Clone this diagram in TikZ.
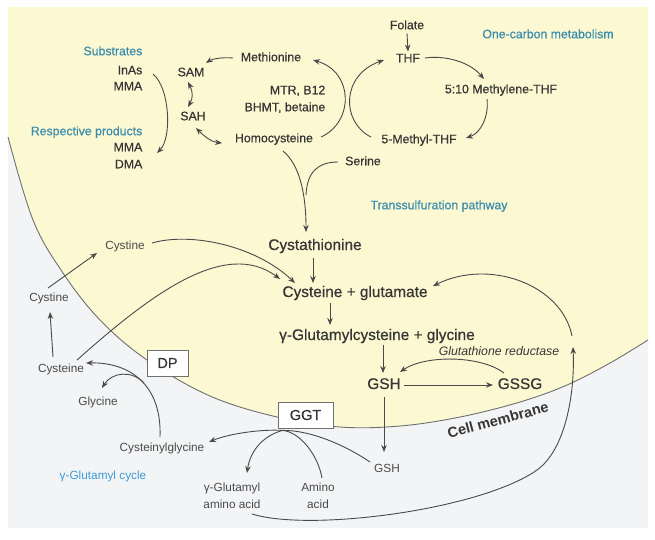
\documentclass[tikz,border=0pt]{standalone}
\usepackage{fontspec}
\setmainfont{Liberation Sans}
\newfontfamily\labfont{Liberation Sans}[FakeBold=0.6]
\usetikzlibrary{arrows.meta,calc}
\definecolor{txt}{HTML}{363636}
\definecolor{txtl}{HTML}{4A4A4A}
\definecolor{blu}{HTML}{3B8DAE}
\definecolor{blu2}{HTML}{3A9BD5}
\definecolor{yel}{HTML}{FCF8D2}
\definecolor{pan}{HTML}{F3F4F6}
\definecolor{lnc}{HTML}{4A4A4A}
\definecolor{boxc}{HTML}{707070}
\begin{document}
\begin{tikzpicture}[x=1pt,y=-1pt,
  lab/.style={font=\labfont\fontsize{12.3}{14}\selectfont, text=txt, inner sep=1.5pt, text height=9pt, text depth=2.5pt},
  big/.style={font=\labfont\fontsize{15.4}{18}\selectfont, text=txt, inner sep=1.5pt, text height=11pt, text depth=3pt},
  sm/.style={font=\fontsize{11.8}{14}\selectfont, text=txtl, inner sep=1.5pt, text height=8.6pt, text depth=2.4pt},
  smtwo/.style={font=\fontsize{11.8}{17}\selectfont, text=txtl, inner sep=1.5pt, align=center},
  bl/.style={lab, text=blu},
  boxn/.style={draw=boxc, fill=white, line width=0.8pt, minimum height=26pt, inner sep=0pt, font=\labfont\fontsize{14.5}{16}\selectfont, text=txt},
  arr/.style={draw=lnc, line width=0.9pt, -{Stealth[length=7pt,width=5.5pt]}},
  darr/.style={draw=lnc, line width=0.9pt, {Stealth[length=7pt,width=5.5pt]}-{Stealth[length=7pt,width=5.5pt]}},
  lin/.style={draw=lnc, line width=0.9pt},
  memb/.style={draw=boxc, line width=0.9pt}]
\useasboundingbox (0,0) rectangle (655,539);
\fill[white] (0,0) rectangle (655,539);
\fill[pan] (8,7) rectangle (648,528);
\fill[yel] (8,7) -- plot[smooth, tension=0.6] coordinates {(8,137) (33,220) (63,273) (100,320) (147,360) (210,396) (277,417) (340,427) (400,426) (460,417) (520,402) (567,385) (610,363) (648,340)} -- (648,7) -- cycle;
\draw[memb] plot[smooth, tension=0.6] coordinates {(8,137) (33,220) (63,273) (100,320) (147,360) (210,396) (277,417) (340,427) (400,426) (460,417) (520,402) (567,385) (610,363) (648,340)};

% nodes
\node[bl, anchor=east] (sub) at (144,52) {Substrates};
\node[lab, anchor=east] (inas) at (144,71) {InAs};
\node[lab, anchor=east] (mma1) at (144,87) {MMA};
\node[bl, anchor=east] (resp) at (144,132) {Respective products};
\node[lab, anchor=east] (mma2) at (144,148) {MMA};
\node[lab, anchor=east] (dma) at (144,165) {DMA};
\node[lab] (sam) at (191,73) {SAM};
\node[lab] (sah) at (193,117) {SAH};
\node[lab] (meth) at (271,58) {Methionine};
\node[lab, anchor=east] (mtr) at (327,91) {MTR, B12};
\node[lab, anchor=east] (bhmt) at (327,108) {BHMT, betaine};
\node[lab] (homo) at (274,139) {Homocysteine};
\node[lab] (folate) at (407,26) {Folate};
\node[lab] (thf) at (408,59) {THF};
\node[lab] (mthf) at (501,90) {5:10 Methylene-THF};
\node[lab] (methyl) at (419,140) {5-Methyl-THF};
\node[bl] (onec) at (548,35) {One-carbon metabolism};
\node[lab] (serine) at (363,162) {Serine};
\node[bl] (trans) at (439,206) {Transsulfuration pathway};
\node[big] (cysta) at (315,246) {Cystathionine};
\node[big] (cysglu) at (355,293) {Cysteine + glutamate};
\node[big] (gglu) at (377,336) {γ-Glutamylcysteine + glycine};
\node[big] (gsh) at (384,385) {GSH};
\node[big] (gssg) at (520,385) {GSSG};
\node[lab, font=\fontsize{12.3}{14}\selectfont\itshape] (gr) at (499,352) {Glutathione reductase};
\node[sm] (gsho) at (387,469) {GSH};
\node[text=txt, font=\fontsize{14.5}{16}\selectfont\bfseries, rotate=15, inner sep=0pt] (cell) at (498,420) {Cell membrane};
\node[sm] (cysi) at (125,246) {Cystine};
\node[sm] (cyso) at (49,298) {Cystine};
\node[sm] (cyst) at (61,369) {Cysteine};
\node[sm] (gly) at (98,402) {Glycine};
\node[sm] (cysgly) at (162,448) {Cysteinylglycine};
\node[sm, text=blu2] (gcyc) at (103,476) {γ-Glutamyl cycle};
\node[smtwo] (gaa) at (232,496) {γ-Glutamyl\\amino acid};
\node[smtwo] (aa) at (318,496) {Amino\\acid};
\node[boxn, minimum width=41pt] (dp) at (167.5,363) {DP};
\node[boxn, minimum width=55pt] (ggt) at (305.5,415) {GGT};
\coordinate (gg) at ($(ggt.south west)+(5,2)$);
\coordinate (br) at (144,383);

% connectors
\draw[arr] ($(inas.east)+(9,3)$) .. controls (170,88) and (172,138) .. ($(mma2.east)+(13,5)$);
\draw[darr] ($(sam)+(-3,9)$) .. controls (193,92) and (193,98) .. ($(sah)+(-5,-10)$);
\draw[darr] ($(sah)+(3,11)$) .. controls (205,137) and (212,142) .. ($(homo)+(-52,4)$);
\draw[arr] ($(meth)+(-38,0)$) .. controls (222,57) and (212,59) .. ($(sam)+(15,-10)$);
\draw[arr] ($(homo)+(47,-2)$) .. controls (354,122) and (354,72) .. ($(meth)+(42,2)$);
\draw[arr] ($(methyl)+(-48,-3)$) .. controls (341,122) and (341,75) .. ($(thf)+(-24,1)$);
\draw[arr] (folate.south) -- (thf.north);
\draw[arr] ($(thf)+(17,-1)$) .. controls (445,55) and (470,62) .. ($(mthf)+(-17,-11)$);
\draw[arr] ($(mthf)+(-14,9)$) .. controls (489,116) and (481,133) .. ($(methyl)+(47,-2)$);
\draw[arr] ($(homo)+(9,12)$) .. controls (300,165) and (306,195) .. ($(cysta)+(-9,-14)$);
\draw[lin] ($(serine)+(-25,0)$) .. controls (318,162) and (307,172) .. (306,195);
\draw[arr] ($(cysta)+(-2,12)$) -- ($(cysglu)+(-42,-10)$);
\draw[arr] ($(cysglu)+(-25,10)$) -- ($(gglu)+(-47,-11)$);
\draw[arr] ($(gglu)+(6,9)$) -- ($(gsh)+(-1,-12)$);
\draw[arr] ($(gsh)+(20,0)$) -- ($(gssg)+(-27,0)$);
\draw[arr] ($(gssg)+(-16,-12)$) .. controls (480,355) and (425,355) .. ($(gsh)+(16,-13)$);
\draw[arr] ($(gsh)+(0,12)$) -- ($(gsho)+(-3,-17)$);
\draw[lin] ($(gaa)+(20,18)$) .. controls (310,532) and (480,510) .. (537,470);
\draw[arr] (537,470) .. controls (565,450) and (575,395) .. ($(gssg)+(53,-38)$);
\draw[arr] ($(gssg)+(52,-49)$) .. controls (562,285) and (490,258) .. ($(cysglu)+(78,-7)$);
\draw[arr] ($(cyso)+(-1,-10)$) -- ($(cysi)+(-28,7)$);
\draw[arr] ($(cyst)+(-8,-12)$) -- ($(cyso)+(1,14)$);
\draw[arr] ($(cysi)+(27,-3)$) .. controls (190,232) and (255,245) .. ($(cysglu)+(-60,-10)$);
\draw[arr] ($(cyst)+(16,-9)$) .. controls (150,295) and (225,238) .. ($(cysglu)+(-75,-14)$);
\draw[arr] ($(cysgly)+(-2,-11)$) .. controls (162,385) and (130,362) .. ($(cyst)+(25,-6)$);
\draw[arr] (br) .. controls (132,370) and (112,372) .. ($(gly)+(4,-14)$);
\draw[arr] (gg) .. controls (260,429) and (228,434) .. ($(cysgly)+(47,-6)$);
\draw[arr] (gg) .. controls (262,436) and (250,452) .. ($(gaa)+(15,-23)$);
\draw[lin] ($(aa)+(4,-18)$) .. controls (318,455) and (300,432) .. (gg);
\draw[lin] ($(gsho)+(-17,-7)$) .. controls (345,445) and (310,430) .. (gg);
\end{tikzpicture}
\end{document}
